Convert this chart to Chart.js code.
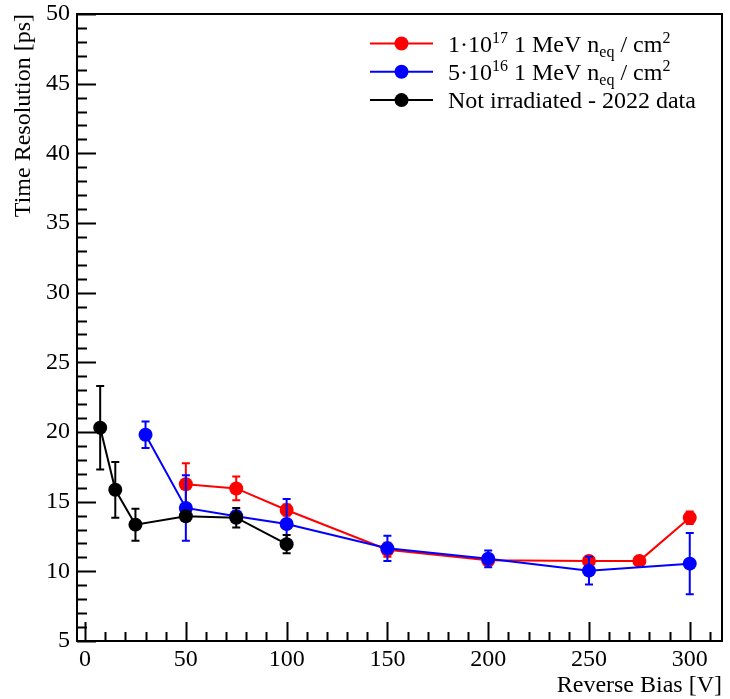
<!DOCTYPE html>
<html>
<head>
<meta charset="utf-8">
<script src="https://cdn.jsdelivr.net/npm/chart.js@4.4.0/dist/chart.umd.min.js"></script>
<style>
  body { margin: 0; background: #fff; }
</style>
</head>
<body>
<canvas id="myChart" width="730" height="699"></canvas>
<script>
// Not irradiated - 2022 data
const xBlack = [7.5, 15, 25, 50, 75, 100];
const yBlack = [20.3, 15.85, 13.35, 13.95, 13.85, 11.95];
const eBlack = [3.0, 2.0, 1.15, 0.3, 0.7, 0.65];

// 5e16
const xBlue = [30, 50, 75, 100, 150, 200, 250, 300];
const yBlue = [19.8, 14.55, 13.95, 13.4, 11.65, 10.9, 10.05, 10.55];
const eBlue = [0.95, 2.35, 0.4, 1.8, 0.9, 0.6, 1.0, 2.2];

// 1e17
const xRed = [50, 75, 100, 150, 200, 250, 275, 300];
const yRed = [16.25, 15.95, 14.4, 11.55, 10.8, 10.75, 10.75, 13.85];
const eRed = [1.5, 0.85, 0.4, 0.5, 0.3, 0.25, 0, 0.45];

const xTicks = [0, 50, 100, 150, 200, 250, 300];
const yTicks = [5, 10, 15, 20, 25, 30, 35, 40, 45, 50];

// legend text pieces: [text, "", "sup" or "sub"]
const legendRed = [["1·10", ""], ["17", "sup"], [" 1 MeV n", ""], ["eq", "sub"], [" / cm", ""], ["2", "sup"]];
const legendBlue = [["5·10", ""], ["16", "sup"], [" 1 MeV n", ""], ["eq", "sub"], [" / cm", ""], ["2", "sup"]];
const legendBlack = [["Not irradiated - 2022 data", ""]];

const serif = "'Liberation Serif', 'DejaVu Serif', serif";

function toPoints(xs, ys) {
    return xs.map((v, i) => ({ x: v, y: ys[i] }));
}

const errorBars = {
    id: 'errorBars',
    beforeDatasetDraw(chart, args) {
        const ds = chart.data.datasets[args.index];
        if (!ds.errors) return;
        const { ctx, scales: { x, y } } = chart;
        ctx.save();
        ctx.strokeStyle = ds.borderColor;
        ctx.lineWidth = 2;
        ds.data.forEach((p, i) => {
            const e = ds.errors[i];
            if (!e) return;
            const px = x.getPixelForValue(p.x);
            const top = y.getPixelForValue(p.y + e);
            const bot = y.getPixelForValue(p.y - e);
            ctx.beginPath();
            ctx.moveTo(px, top); ctx.lineTo(px, bot);
            ctx.moveTo(px - 4, top); ctx.lineTo(px + 4, top);
            ctx.moveTo(px - 4, bot); ctx.lineTo(px + 4, bot);
            ctx.stroke();
        });
        ctx.restore();
    }
};

// ROOT style frame with inward ticks
const frame = {
    id: 'frame',
    afterDraw(chart) {
        const { ctx, chartArea: a, scales: { x, y } } = chart;
        ctx.save();
        ctx.strokeStyle = '#000';
        ctx.lineWidth = 2;
        ctx.strokeRect(a.left, a.top, a.right - a.left, a.bottom - a.top);
        ctx.beginPath();
        for (let v = 5; v <= 50; v++) {
            const py = Math.round(y.getPixelForValue(v)) + 0.5;
            const len = v % 5 === 0 ? 19 : 10;
            ctx.moveTo(a.left, py); ctx.lineTo(a.left + len, py);
        }
        for (let v = 0; v <= 310; v += 10) {
            const px = Math.round(x.getPixelForValue(v)) + 0.5;
            const len = v % 50 === 0 ? 19 : 9;
            ctx.moveTo(px, a.bottom); ctx.lineTo(px, a.bottom - len);
        }
        ctx.stroke();
        ctx.restore();
    }
};

const legendBox = {
    id: 'legendBox',
    afterDraw(chart) {
        const ctx = chart.ctx;
        const entries = [
            [legendRed, 'rgb(255,0,0)'],
            [legendBlue, 'rgb(0,0,255)'],
            [legendBlack, '#000']
        ];
        ctx.save();
        entries.forEach(([parts, col], i) => {
            const yy = 43.5 + i * 28.3;
            ctx.strokeStyle = col;
            ctx.fillStyle = col;
            ctx.lineWidth = 2;
            ctx.beginPath();
            ctx.moveTo(370, yy); ctx.lineTo(433, yy);
            ctx.stroke();
            ctx.beginPath();
            ctx.arc(401.5, yy, 7, 0, Math.PI * 2);
            ctx.fill();
            ctx.fillStyle = '#000';
            ctx.textBaseline = 'alphabetic';
            let tx = 448;
            const base = yy + 8;
            parts.forEach(([t, kind]) => {
                let size = 24, dy = 0;
                if (kind === 'sup') { size = 16; dy = -9; }
                if (kind === 'sub') { size = 16; dy = 5; }
                ctx.font = size + 'px ' + serif;
                ctx.fillText(t, tx, base + dy);
                tx += ctx.measureText(t).width;
            });
        });
        ctx.restore();
    }
};

const tickFont = { family: serif, size: 24 };

new Chart("myChart", {
    type: "line",
    data: {
        datasets: [{
            label: "Not irradiated - 2022 data",
            data: toPoints(xBlack, yBlack),
            errors: eBlack,
            borderColor: '#000',
            backgroundColor: '#000',
            order: 0
        }, {
            label: "5·10^16 1 MeV n_eq / cm^2",
            data: toPoints(xBlue, yBlue),
            errors: eBlue,
            borderColor: 'rgb(0,0,255)',
            backgroundColor: 'rgb(0,0,255)',
            order: 1
        }, {
            label: "1·10^17 1 MeV n_eq / cm^2",
            data: toPoints(xRed, yRed),
            errors: eRed,
            borderColor: 'rgb(255,0,0)',
            backgroundColor: 'rgb(255,0,0)',
            order: 2
        }]
    },
    options: {
        responsive: false,
        animation: false,
        events: [],
        layout: { padding: { top: 14, right: 8, left: 0, bottom: 0 } },
        elements: {
            line: { borderWidth: 2, tension: 0 },
            point: { radius: 7, borderWidth: 0 }
        },
        plugins: {
            legend: { display: false },
            tooltip: { enabled: false }
        },
        scales: {
            x: {
                type: 'linear',
                min: -4,
                max: 316,
                afterBuildTicks: s => { s.ticks = xTicks.map(v => ({ value: v })); },
                afterFit: s => { s.height = 58; s.paddingLeft = 0; s.paddingRight = 0; },
                grid: { display: false, drawTicks: false },
                border: { display: false },
                ticks: { font: tickFont, color: '#000', padding: 4, maxRotation: 0, autoSkip: false },
                title: {
                    display: true,
                    text: 'Reverse Bias [V]',
                    align: 'end',
                    color: '#000',
                    font: { family: serif, size: 24, lineHeight: 1 },
                    padding: { top: 0, bottom: 1 }
                }
            },
            y: {
                type: 'linear',
                min: 5,
                max: 50,
                afterBuildTicks: s => { s.ticks = yTicks.map(v => ({ value: v })); },
                afterFit: s => { s.width = 77; s.paddingTop = 0; s.paddingBottom = 0; },
                grid: { display: false, drawTicks: false },
                border: { display: false },
                ticks: { font: tickFont, color: '#000', padding: 7, autoSkip: false },
                title: {
                    display: true,
                    text: 'Time Resolution [ps]',
                    align: 'end',
                    color: '#000',
                    font: { family: serif, size: 24, lineHeight: 1 },
                    padding: { top: 12, bottom: 0 }
                }
            }
        }
    },
    plugins: [errorBars, frame, legendBox]
});
</script>
</body>
</html>
